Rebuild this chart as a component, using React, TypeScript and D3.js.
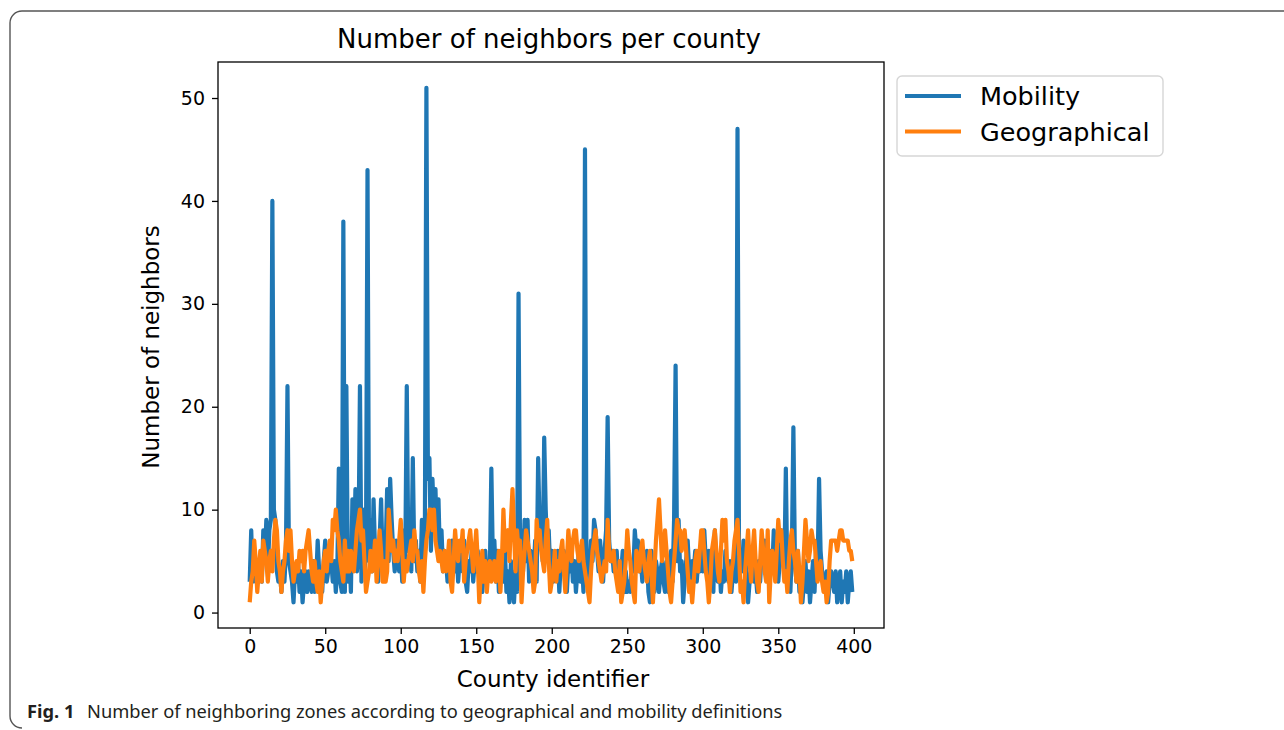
import * as React from 'react';
import * as d3 from 'd3';

// number of neighbours per county, index = county identifier
const mobility: number[] = [
  3, 8, 3, 4, 3, 5, 3, 4, 3, 8,
  5, 9, 4, 8, 9, 40, 10, 9, 4, 3,
  4, 2, 5, 3, 6, 22, 5, 4, 3, 1,
  4, 3, 5, 2, 4, 1, 3, 4, 2, 4,
  3, 2, 5, 2, 3, 7, 4, 3, 2, 5,
  7, 3, 4, 6, 5, 3, 5, 2, 4, 14,
  3, 2, 38, 2, 22, 3, 6, 2, 11, 5,
  12, 4, 6, 22, 3, 10, 4, 6, 43, 5,
  9, 4, 11, 6, 5, 3, 7, 11, 5, 4,
  6, 12, 5, 13, 9, 6, 4, 7, 5, 4,
  6, 3, 8, 5, 22, 6, 9, 4, 15, 5,
  7, 4, 6, 3, 9, 5, 8, 51, 13, 15,
  6, 13, 9, 12, 7, 11, 5, 8, 4, 6,
  5, 3, 6, 4, 7, 5, 4, 6, 3, 5,
  6, 4, 7, 3, 2, 5, 4, 6, 3, 5,
  4, 6, 3, 5, 2, 4, 6, 3, 5, 4,
  14, 5, 7, 3, 6, 2, 4, 5, 3, 6,
  2, 4, 1, 5, 3, 1, 4, 2, 31, 6,
  8, 4, 9, 5, 9, 3, 6, 5, 4, 7,
  3, 15, 8, 9, 5, 17, 10, 6, 8, 4,
  6, 3, 5, 4, 6, 2, 5, 4, 6, 3,
  2, 5, 4, 6, 3, 5, 2, 4, 6, 3,
  5, 2, 45, 3, 6, 4, 7, 5, 9, 8,
  6, 4, 7, 5, 3, 6, 8, 19, 7, 5,
  6, 4, 5, 6, 3, 5, 4, 6, 2, 4,
  2, 3, 2, 5, 4, 8, 6, 7, 4, 5,
  3, 5, 4, 6, 2, 1, 6, 3, 2, 5,
  4, 2, 4, 5, 3, 2, 5, 2, 4, 6,
  3, 9, 24, 5, 9, 4, 5, 1, 3, 5,
  7, 4, 2, 5, 4, 6, 3, 5, 4, 7,
  4, 8, 5, 4, 6, 3, 5, 2, 8, 4,
  3, 5, 2, 4, 3, 6, 4, 3, 5, 2,
  4, 6, 3, 47, 5, 6, 4, 7, 5, 4,
  1, 3, 4, 5, 3, 4, 2, 5, 3, 6,
  5, 7, 4, 5, 3, 6, 4, 8, 5, 6,
  3, 5, 8, 6, 4, 14, 3, 5, 2, 6,
  18, 5, 3, 6, 2, 4, 1, 3, 5, 2,
  4, 1, 3, 5, 2, 6, 4, 13, 6, 4,
  3, 2, 4, 1, 3, 4, 3, 2, 4, 1,
  3, 4, 1, 3, 2, 4, 1, 3, 4, 2,
];

const geographical: number[] = [
  1, 3, 4, 7, 5, 2, 4, 6, 3, 7,
  6, 5, 3, 5, 6, 4, 7, 9, 8, 5,
  4, 2, 4, 5, 7, 8, 6, 8, 5, 3,
  4, 5, 4, 6, 5, 6, 4, 6, 7, 8,
  6, 4, 3, 5, 3, 2, 4, 1, 3, 5,
  6, 4, 6, 7, 5, 9, 8, 10, 8, 7,
  5, 4, 3, 7, 4, 6, 4, 6, 5, 4,
  6, 8, 9, 10, 7, 8, 5, 2, 3, 4,
  6, 4, 5, 7, 3, 5, 8, 6, 3, 5,
  3, 4, 10, 8, 6, 7, 5, 6, 5, 7,
  9, 6, 3, 5, 4, 5, 6, 7, 5, 8,
  6, 6, 4, 3, 5, 2, 5, 7, 8, 10,
  10, 8, 10, 7, 6, 5, 6, 5, 4, 6,
  4, 5, 7, 3, 2, 5, 8, 6, 5, 7,
  6, 8, 3, 5, 6, 7, 8, 6, 4, 6,
  8, 5, 1, 4, 6, 3, 5, 2, 4, 5,
  3, 4, 5, 3, 4, 6, 2, 5, 10, 6,
  7, 8, 5, 9, 12, 8, 4, 8, 6, 7,
  1, 4, 6, 8, 7, 6, 5, 4, 2, 3,
  9, 7, 8, 6, 5, 4, 7, 9, 5, 2,
  3, 4, 6, 3, 5, 4, 6, 7, 4, 2,
  5, 8, 6, 5, 7, 8, 8, 6, 5, 6,
  7, 5, 4, 3, 2, 1, 4, 6, 7, 8,
  6, 5, 4, 3, 4, 5, 4, 9, 6, 5,
  5, 6, 4, 3, 2, 5, 1, 2, 3, 5,
  8, 6, 5, 3, 2, 1, 6, 5, 4, 6,
  7, 5, 4, 3, 5, 6, 4, 1, 4, 7,
  9, 11, 8, 5, 6, 8, 6, 4, 2, 1,
  3, 5, 7, 9, 8, 8, 6, 7, 8, 6,
  4, 2, 3, 1, 3, 5, 6, 4, 6, 8,
  8, 6, 4, 3, 1, 3, 6, 7, 8, 6,
  4, 3, 6, 9, 7, 9, 5, 4, 2, 4,
  5, 7, 8, 9, 6, 2, 3, 1, 4, 6,
  8, 5, 3, 6, 8, 5, 3, 2, 5, 8,
  6, 4, 3, 8, 1, 4, 6, 5, 3, 6,
  9, 7, 8, 5, 3, 4, 2, 5, 7, 8,
  6, 5, 3, 6, 4, 1, 3, 6, 9, 7,
  5, 6, 8, 7, 7, 5, 3, 4, 5, 3,
  2, 3, 1, 2, 5, 7, 7, 7, 7, 6,
  7, 8, 8, 7, 7, 7, 7, 6, 6, 5,
];

const seriesNames = ['Mobility', 'Geographical'];
const seriesColors = ['#1f77b4', '#ff7f0e'];
const xTicks = [0, 50, 100, 150, 200, 250, 300, 350, 400];
const yTicks = [0, 10, 20, 30, 40, 50];

const W = 1284;
const H = 730;
const plot = { left: 218, right: 884, top: 62, bottom: 628 };
const FONT = '"DejaVu Sans", sans-serif';
const CAPTION_FONT = '"Noto Sans", sans-serif';

const NeighborsChart = () => {
  const xAxisRef = React.useRef<SVGGElement>(null);
  const yAxisRef = React.useRef<SVGGElement>(null);
  const linesRef = React.useRef<SVGGElement>(null);

  const x = d3.scaleLinear().domain([-21, 420]).range([plot.left, plot.right]);
  const y = d3.scaleLinear().domain([-1.5, 53.5]).range([plot.bottom, plot.top]);

  React.useEffect(() => {
    const xa = d3.select(xAxisRef.current!)
      .call(d3.axisBottom(x).tickValues(xTicks).tickSize(6).tickPadding(6).tickFormat(d3.format('d')));
    const ya = d3.select(yAxisRef.current!)
      .call(d3.axisLeft(y).tickValues(yTicks).tickSize(6).tickPadding(7).tickFormat(d3.format('d')));

    for (const a of [xa, ya]) {
      a.select('.domain').remove();
      a.attr('font-family', FONT).attr('font-size', 19);
      a.selectAll('line').attr('stroke', '#000').attr('stroke-width', 1.3);
      a.selectAll('text').attr('fill', '#000');
    }

    const line = d3.line<number>()
      .x((_, i) => x(i))
      .y((d) => y(d));

    d3.select(linesRef.current!)
      .selectAll('path')
      .data([mobility, geographical])
      .join('path')
      .attr('d', (d) => line(d))
      .attr('fill', 'none')
      .attr('stroke', (_, i) => seriesColors[i])
      .attr('stroke-width', 4.2)
      .attr('stroke-linejoin', 'round');
  }, []);

  const legendX = 897;
  const legendY = 76;

  return (
    <svg width={W} height={H} style={{ position: 'absolute', left: 0, top: 0, background: '#fff' }}>
      <path d="M1284,11 H22 A12,12 0 0 0 10,23 V716 A12,12 0 0 0 22,728" fill="none" stroke="#555" strokeWidth={1.4} />

      <text x={549} y={48} textAnchor="middle" fontFamily={FONT} fontSize={26} fill="#000">
        Number of neighbors per county
      </text>

      <g ref={linesRef} />
      <rect x={plot.left} y={plot.top} width={plot.right - plot.left} height={plot.bottom - plot.top}
            fill="none" stroke="#000" strokeWidth={1.3} />
      <g ref={xAxisRef} transform={`translate(0, ${plot.bottom})`} />
      <g ref={yAxisRef} transform={`translate(${plot.left}, 0)`} />

      <text x={553} y={687} textAnchor="middle" fontFamily={FONT} fontSize={23} fill="#000">
        County identifier
      </text>
      <text transform={`translate(159, 347) rotate(-90)`} textAnchor="middle" fontFamily={FONT} fontSize={23} fill="#000">
        Number of neighbors
      </text>

      <rect x={legendX} y={legendY} width={266} height={80} rx={5} fill="#fff" fillOpacity={0.8}
            stroke="#d6d6d6" strokeWidth={1.4} />
      {seriesNames.map((name, i) => (
        <g key={name} transform={`translate(${legendX}, ${legendY + 20 + i * 35.5})`}>
          <line x1={8} x2={64} y1={0} y2={0} stroke={seriesColors[i]} strokeWidth={4.2} />
          <text x={83} y={9} fontFamily={FONT} fontSize={25.5} fill="#000">{name}</text>
        </g>
      ))}

      <text x={27} y={718} fontFamily={CAPTION_FONT} fontSize={18.3} fill="#231f20">
        <tspan fontWeight="bold">Fig. 1</tspan>
      </text>
      <text x={87} y={718} fontFamily={CAPTION_FONT} fontSize={18.3} fill="#231f20">
        Number of neighboring zones according to geographical and mobility definitions
      </text>
    </svg>
  );
};

export default function App() {
  return <NeighborsChart />;
}
